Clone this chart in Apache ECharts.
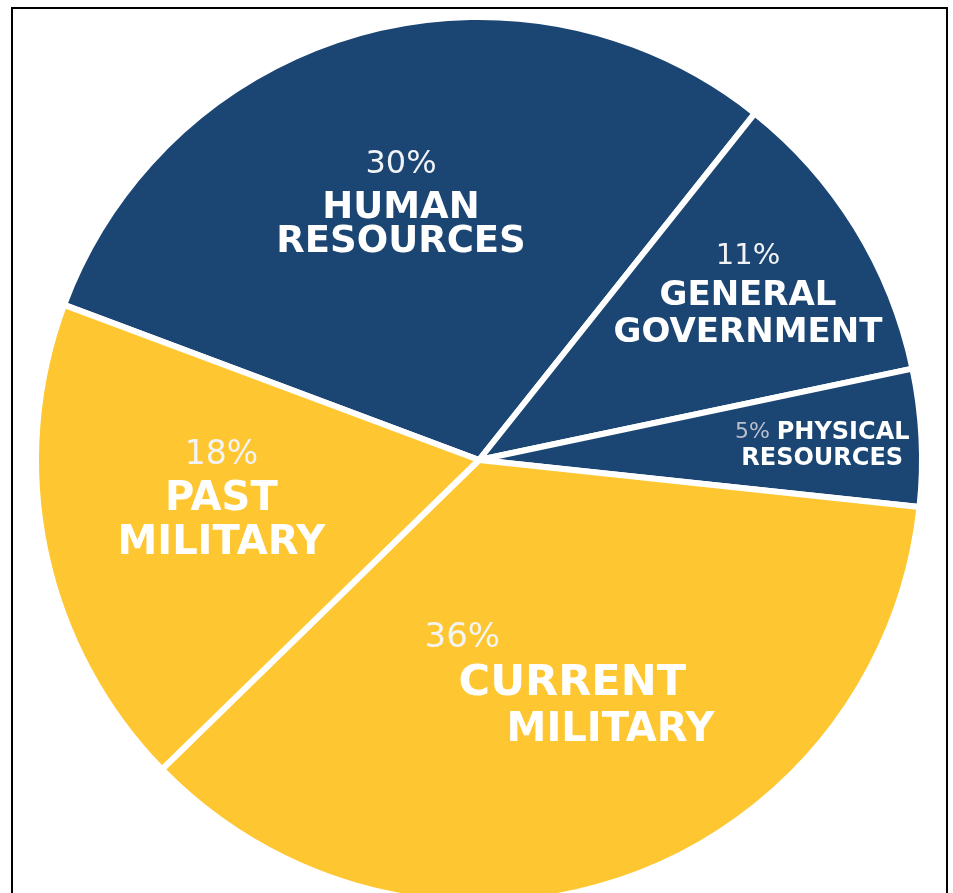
<!DOCTYPE html>
<html>
<head>
<meta charset="utf-8">
<script src="https://cdn.jsdelivr.net/npm/echarts@6/dist/echarts.min.js"></script>
<style>
  html, body { margin: 0; padding: 0; background: #ffffff; }
  #chart { position: absolute; left: 0; top: 0; width: 953px; height: 893px; }
  #frame { position: absolute; left: 11px; top: 7px; width: 937px; height: 900px;
           box-sizing: border-box; border: 2px solid #000; border-bottom: none; pointer-events: none; }
</style>
</head>
<body>
<div id="chart"></div>
<div id="frame"></div>
<script>
// ---- data ----
const categories = ['HUMAN\nRESOURCES', 'GENERAL\nGOVERNMENT', 'PHYSICAL\nRESOURCES', 'CURRENT\nMILITARY', 'PAST\nMILITARY'];
const values = [30, 11, 5, 36, 18];
const groups = ['navy', 'navy', 'navy', 'gold', 'gold'];

// ---- styles ----
const palette = { navy: '#1b4573', gold: '#fec731' };
const FONT = 'DejaVu Sans';
const labelStyles = [
  { p: { fontSize: 32, lineHeight: 54 }, n: { fontSize: 37, lineHeight: 34 } },
  { p: { fontSize: 29, lineHeight: 43 }, n: { fontSize: 34, lineHeight: 37 } },
  { p: { fontSize: 22, lineHeight: 26, color: '#b9c0cc' }, n: { fontSize: 24, lineHeight: 26 } },
  { p: { fontSize: 34, lineHeight: 46 }, n: [{ fontSize: 43, lineHeight: 46 }, { fontSize: 40, lineHeight: 46 }] },
  { p: { fontSize: 33, lineHeight: 44 }, n: { fontSize: 40, lineHeight: 44 } }
];
const linePads = [null, null, null, [0, 34, 82], null];
const labelShift = [[-18, -45], [78, -49], [119, -3], [17, 12], [-38, -7]];

function buildLabel(i) {
  const st = labelStyles[i];
  const lines = categories[i].split('\n');
  const pct = values[i] + '%';
  const rich = {};
  let text;
  const base = { fontFamily: FONT, color: '#ffffff' };
  if (linePads[i]) {
    const pads = linePads[i];
    rich.p = Object.assign({}, base, { fontWeight: 'normal', color: '#f4f4f4', align: 'left', padding: [0, 0, 0, pads[0]] }, st.p);
    const parts = ['{p|' + pct + '}'];
    lines.forEach((ln, k) => {
      rich['n' + k] = Object.assign({}, base, { fontWeight: 'bold', align: 'left', padding: [0, 0, 0, pads[k + 1]] }, st.n[k]);
      parts.push('{n' + k + '|' + ln + '}');
    });
    text = parts.join('\n');
  } else {
    rich.p = Object.assign({}, base, { fontWeight: 'normal', color: '#f2f3f6' }, st.p);
    rich.n = Object.assign({}, base, { fontWeight: 'bold' }, st.n);
    if (i === 2) {
      text = '{p|' + pct + ' }{n|' + lines[0] + '}\n{n|' + lines[1] + '}';
    } else {
      text = '{p|' + pct + '}\n' + lines.map(l => '{n|' + l + '}').join('\n');
    }
  }
  return { show: true, position: 'inside', formatter: text, rich: rich };
}

const seriesData = categories.map((c, i) => ({
  name: c.replace('\n', ' '),
  value: values[i],
  itemStyle: { color: palette[groups[i]] },
  label: buildLabel(i)
}));

const chart = echarts.init(document.getElementById('chart'), null, { renderer: 'canvas' });
chart.setOption({
  animation: false,
  backgroundColor: '#ffffff',
  series: [{
    type: 'pie',
    center: [479, 460],
    radius: [0, 443],
    startAngle: 159.5,
    clockwise: true,
    avoidLabelOverlap: false,
    itemStyle: { borderColor: '#ffffff', borderWidth: 6 },
    labelLine: { show: false },
    emphasis: { disabled: true },
    labelLayout: function (params) {
      const s = labelShift[params.dataIndex];
      return { dx: s[0], dy: s[1] };
    },
    data: seriesData
  }]
});
</script>
</body>
</html>
